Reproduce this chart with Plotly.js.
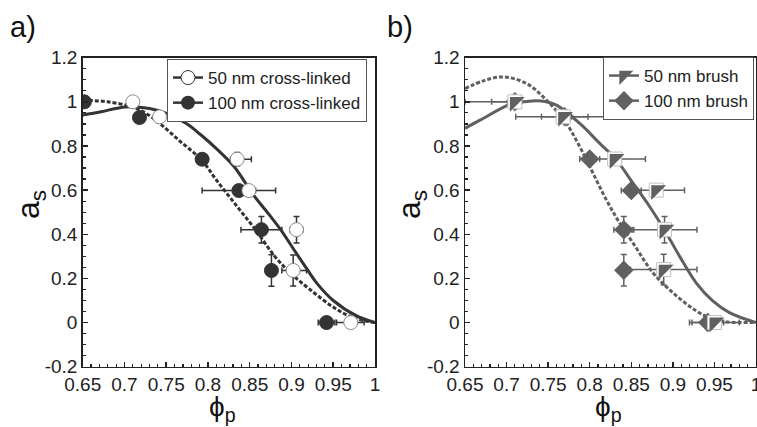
<!DOCTYPE html>
<html>
<head>
<meta charset="utf-8">
<script src="https://cdn.plot.ly/plotly-3.0.1.min.js"></script>
<style>html,body{margin:0;padding:0;background:#fff;}#chart{width:757px;height:427px;}</style>
</head>
<body>
<div id="chart"></div>
<script>
// ---------- data ----------
const xTickVals = [0.65, 0.7, 0.75, 0.8, 0.85, 0.9, 0.95, 1.0];
const xTickText = ['0.65', '0.7', '0.75', '0.8', '0.85', '0.9', '0.95', '1'];
const yTickVals = [-0.2, 0, 0.2, 0.4, 0.6, 0.8, 1.0, 1.2];
const yTickText = ['-0.2', '0', '0.2', '0.4', '0.6', '0.8', '1', '1.2'];

// panel a) 50 nm cross-linked
const xl50_x = [0.710, 0.742, 0.835, 0.849, 0.906, 0.902, 0.971];
const xl50_y = [1.0, 0.932, 0.74, 0.598, 0.421, 0.236, 0.0];
const xl50_xerrPlus = [0, 0, 0.017, 0.008, 0.0075, 0.016, 0.016];
const xl50_xerrMinus = [0, 0, 0.008, 0.008, 0.0075, 0.0135, 0.017];
const xl50_yerr = [0, 0, 0.03, 0, 0.06, 0.07, 0];
// panel a) 100 nm cross-linked
const xl100_x = [0.652, 0.718, 0.793, 0.837, 0.864, 0.876, 0.942];
const xl100_y = [1.0, 0.929, 0.74, 0.598, 0.421, 0.236, 0.0];
const xl100_xerr = [0, 0, 0, 0.044, 0.0245, 0, 0.01];
const xl100_yerr = [0, 0, 0, 0, 0.06, 0.071, 0];
// panel a) fits
const fitXl50_x = [0.65, 0.672, 0.701, 0.73, 0.751, 0.775, 0.791, 0.811, 0.831, 0.855, 0.871, 0.887, 0.903, 0.919, 0.93, 0.95, 0.978, 1.0];
const fitXl50_y = [0.94, 0.955, 0.977, 0.97, 0.947, 0.9, 0.852, 0.785, 0.708, 0.575, 0.5, 0.421, 0.33, 0.24, 0.18, 0.1, 0.03, 0.0];
const fitXl100_x = [0.65, 0.68, 0.711, 0.727, 0.743, 0.767, 0.792, 0.81, 0.834, 0.857, 0.88, 0.9, 0.922, 0.95, 0.975, 1.0];
const fitXl100_y = [1.008, 1.0, 0.975, 0.945, 0.9, 0.82, 0.738, 0.646, 0.53, 0.42, 0.3, 0.22, 0.15, 0.07, 0.02, 0.0];

// panel b) 50 nm brush
const br50_x = [0.710, 0.768, 0.830, 0.880, 0.890, 0.889, 0.950];
const br50_y = [1.0, 0.932, 0.741, 0.600, 0.421, 0.240, 0.0];
const br50_xerrPlus = [0, 0.057, 0.037, 0.034, 0.039, 0.040, 0.03];
const br50_xerrMinus = [0.028, 0.057, 0.037, 0.034, 0.039, 0.040, 0.03];
const br50_yerr = [0, 0, 0, 0, 0.06, 0.07, 0];
// panel b) 100 nm brush
const br100_x = [0.710, 0.770, 0.800, 0.850, 0.841, 0.841, 0.942];
const br100_y = [1.0, 0.932, 0.741, 0.598, 0.421, 0.237, 0.0];
const br100_xerrPlus = [0, 0.028, 0.012, 0.012, 0.012, 0, 0.019];
const br100_xerrMinus = [0.06, 0.028, 0.012, 0.012, 0.012, 0, 0.019];
const br100_yerr = [0, 0, 0, 0, 0.06, 0.071, 0];
// panel b) fits
const fitBr50_x = [0.65, 0.668, 0.707, 0.72, 0.736, 0.748, 0.76, 0.788, 0.812, 0.832, 0.852, 0.872, 0.892, 0.908, 0.928, 0.948, 0.968, 1.0];
const fitBr50_y = [0.88, 0.917, 0.994, 1.0, 1.005, 1.0, 0.985, 0.902, 0.812, 0.737, 0.632, 0.526, 0.406, 0.301, 0.18, 0.098, 0.045, 0.0];
const fitBr100_x = [0.65, 0.672, 0.696, 0.724, 0.748, 0.772, 0.788, 0.8, 0.82, 0.836, 0.852, 0.876, 0.9, 0.928, 0.948, 0.965, 1.0];
const fitBr100_y = [1.06, 1.095, 1.113, 1.083, 1.008, 0.902, 0.797, 0.707, 0.556, 0.451, 0.361, 0.226, 0.135, 0.053, 0.015, 0.003, 0.0];

const legendA = ['50 nm cross-linked', '100 nm cross-linked'];
const legendB = ['50 nm brush', '100 nm brush'];

// ---------- styling ----------
const FONT = 'Liberation Sans, Arial, sans-serif';
const DARK = '#333333';
const GREY = '#606060';
const MS = 14;

function errX(plus, minus, color) {
  return {type: 'data', symmetric: false, array: plus, arrayminus: minus, color: color, thickness: 1.5, width: 3};
}
function errY(arr, color) {
  return {type: 'data', symmetric: true, array: arr, color: color, thickness: 1.5, width: 3};
}

const traces = [
  // panel a fits
  {x: fitXl50_x, y: fitXl50_y, mode: 'lines', line: {color: DARK, width: 3, shape: 'spline'}, showlegend: false, xaxis: 'x', yaxis: 'y', hoverinfo: 'skip'},
  {x: fitXl100_x, y: fitXl100_y, mode: 'lines', line: {color: DARK, width: 3, dash: '4px,2px', shape: 'spline'}, showlegend: false, xaxis: 'x', yaxis: 'y', hoverinfo: 'skip'},
  // panel a points
  {x: xl100_x, y: xl100_y, mode: 'markers', marker: {symbol: 'circle', size: MS, color: DARK, line: {color: DARK, width: 1}},
   error_x: errX(xl100_xerr, xl100_xerr, DARK), error_y: errY(xl100_yerr, DARK), showlegend: false, xaxis: 'x', yaxis: 'y'},
  {x: xl50_x, y: xl50_y, mode: 'markers', marker: {symbol: 'circle', size: MS, color: '#ffffff', line: {color: '#888', width: 1}},
   error_x: errX(xl50_xerrPlus, xl50_xerrMinus, DARK), error_y: errY(xl50_yerr, DARK), showlegend: false, xaxis: 'x', yaxis: 'y'},
  // panel a legend entries
  {x: [null], y: [null], name: legendA[0], mode: 'lines+markers', line: {color: DARK, width: 2.5}, marker: {symbol: 'circle', size: MS, color: '#ffffff', line: {color: DARK, width: 1}}, xaxis: 'x', yaxis: 'y', legend: 'legend'},
  {x: [null], y: [null], name: legendA[1], mode: 'lines+markers', line: {color: DARK, width: 2.5}, marker: {symbol: 'circle', size: MS, color: DARK}, xaxis: 'x', yaxis: 'y', legend: 'legend'},

  // panel b fits
  {x: fitBr50_x, y: fitBr50_y, mode: 'lines', line: {color: GREY, width: 3, shape: 'spline'}, showlegend: false, xaxis: 'x2', yaxis: 'y2', hoverinfo: 'skip'},
  {x: fitBr100_x, y: fitBr100_y, mode: 'lines', line: {color: GREY, width: 3, dash: '4px,2px', shape: 'spline'}, showlegend: false, xaxis: 'x2', yaxis: 'y2', hoverinfo: 'skip'},
  // panel b points
  {x: br100_x, y: br100_y, mode: 'markers', marker: {symbol: 'diamond', size: MS + 1, color: GREY},
   error_x: errX(br100_xerrPlus, br100_xerrMinus, GREY), error_y: errY(br100_yerr, GREY), showlegend: false, xaxis: 'x2', yaxis: 'y2'},
  {x: br50_x, y: br50_y, mode: 'markers', marker: {symbol: 'square', size: MS, color: '#ffffff', line: {color: '#c0c0c0', width: 1}},
   error_x: errX(br50_xerrPlus, br50_xerrMinus, GREY), error_y: errY(br50_yerr, GREY), showlegend: false, xaxis: 'x2', yaxis: 'y2'},
  {x: br50_x, y: br50_y, mode: 'markers', marker: {symbol: 'triangle-nw', size: 16.5, color: GREY, line: {width: 0}}, showlegend: false, xaxis: 'x2', yaxis: 'y2'},
  // panel b legend entries
  {x: [null], y: [null], name: legendB[0], mode: 'lines+markers', line: {color: GREY, width: 2.5}, marker: {symbol: 'triangle-nw', size: 15.6, color: GREY}, xaxis: 'x2', yaxis: 'y2', legend: 'legend2'},
  {x: [null], y: [null], name: legendB[1], mode: 'lines+markers', line: {color: GREY, width: 2.5}, marker: {symbol: 'diamond', size: MS + 1, color: GREY}, xaxis: 'x2', yaxis: 'y2', legend: 'legend2'}
];

function xAxis(domain, anchor) {
  return {
    domain: domain, anchor: anchor, range: [0.65, 1.0],
    tickmode: 'array', tickvals: xTickVals, ticktext: xTickText,
    ticks: 'inside', ticklen: 5, tickwidth: 1.5, tickcolor: '#222',
    ticklabeloverflow: 'allow',
    minor: {dtick: 0.01, tick0: 0.65, ticks: 'inside', ticklen: 3, tickwidth: 1.2, tickcolor: '#222'},
    showline: true, linecolor: '#222', linewidth: 1.5, mirror: true,
    showgrid: false, zeroline: false,
    tickfont: {family: FONT, size: 19, color: '#222'}
  };
}
function yAxis(domain, anchor) {
  return {
    domain: domain, anchor: anchor, range: [-0.2, 1.2],
    tickmode: 'array', tickvals: yTickVals, ticktext: yTickText,
    ticks: 'inside', ticklen: 5, tickwidth: 1.5, tickcolor: '#222',
    minor: {dtick: 0.05, tick0: 0, ticks: 'inside', ticklen: 3, tickwidth: 1.2, tickcolor: '#222'},
    showline: true, linecolor: '#222', linewidth: 1.5, mirror: true,
    showgrid: false, zeroline: false,
    tickfont: {family: FONT, size: 19, color: '#222'}
  };
}

const W = 757, H = 427;
const yDom = [(H - 366.7) / H, (H - 57.7) / H];

const layout = {
  width: W, height: H,
  margin: {l: 0, r: 0, t: 0, b: 0},
  paper_bgcolor: '#ffffff', plot_bgcolor: '#ffffff',
  font: {family: FONT, color: '#222'},
  xaxis: xAxis([82.7 / W, 375 / W], 'y'),
  yaxis: yAxis(yDom, 'x'),
  xaxis2: xAxis([465 / W, 756 / W], 'y2'),
  yaxis2: yAxis(yDom, 'x2'),
  legend: {x: 167 / W, y: (H - 59) / H, xanchor: 'left', yanchor: 'top', bgcolor: '#ffffff',
           bordercolor: '#555', borderwidth: 1, font: {family: FONT, size: 17, color: '#222'}, itemwidth: 30, tracegroupgap: 0},
  legend2: {x: 603 / W, y: (H - 57) / H, xanchor: 'left', yanchor: 'top', bgcolor: '#ffffff',
           bordercolor: '#555', borderwidth: 1, font: {family: FONT, size: 17, color: '#222'}, itemwidth: 30, tracegroupgap: 0},
  annotations: [
    {text: 'a)', xref: 'paper', yref: 'paper', x: 8 / W, y: 1 - 27 / H, xanchor: 'left', yanchor: 'middle', showarrow: false, font: {family: FONT, size: 29, color: '#111'}},
    {text: 'b)', xref: 'paper', yref: 'paper', x: 385 / W, y: 1 - 27 / H, xanchor: 'left', yanchor: 'middle', showarrow: false, font: {family: FONT, size: 29, color: '#111'}},
    {text: 'a<sub>s</sub>', xref: 'paper', yref: 'paper', x: 30 / W, y: 1 - 205 / H, xanchor: 'center', yanchor: 'middle', textangle: -90, showarrow: false, font: {family: FONT, size: 32, color: '#111'}},
    {text: 'a<sub>s</sub>', xref: 'paper', yref: 'paper', x: 411 / W, y: 1 - 205 / H, xanchor: 'center', yanchor: 'middle', textangle: -90, showarrow: false, font: {family: FONT, size: 32, color: '#111'}},
    {text: 'ϕ<sub>p</sub>', xref: 'paper', yref: 'paper', x: 222 / W, y: 1 - 408 / H, xanchor: 'center', yanchor: 'middle', showarrow: false, font: {family: FONT, size: 28, color: '#111'}},
    {text: 'ϕ<sub>p</sub>', xref: 'paper', yref: 'paper', x: 608 / W, y: 1 - 408 / H, xanchor: 'center', yanchor: 'middle', showarrow: false, font: {family: FONT, size: 28, color: '#111'}}
  ]
};

Plotly.newPlot('chart', traces, layout, {staticPlot: true, displayModeBar: false});
</script>
</body>
</html>
